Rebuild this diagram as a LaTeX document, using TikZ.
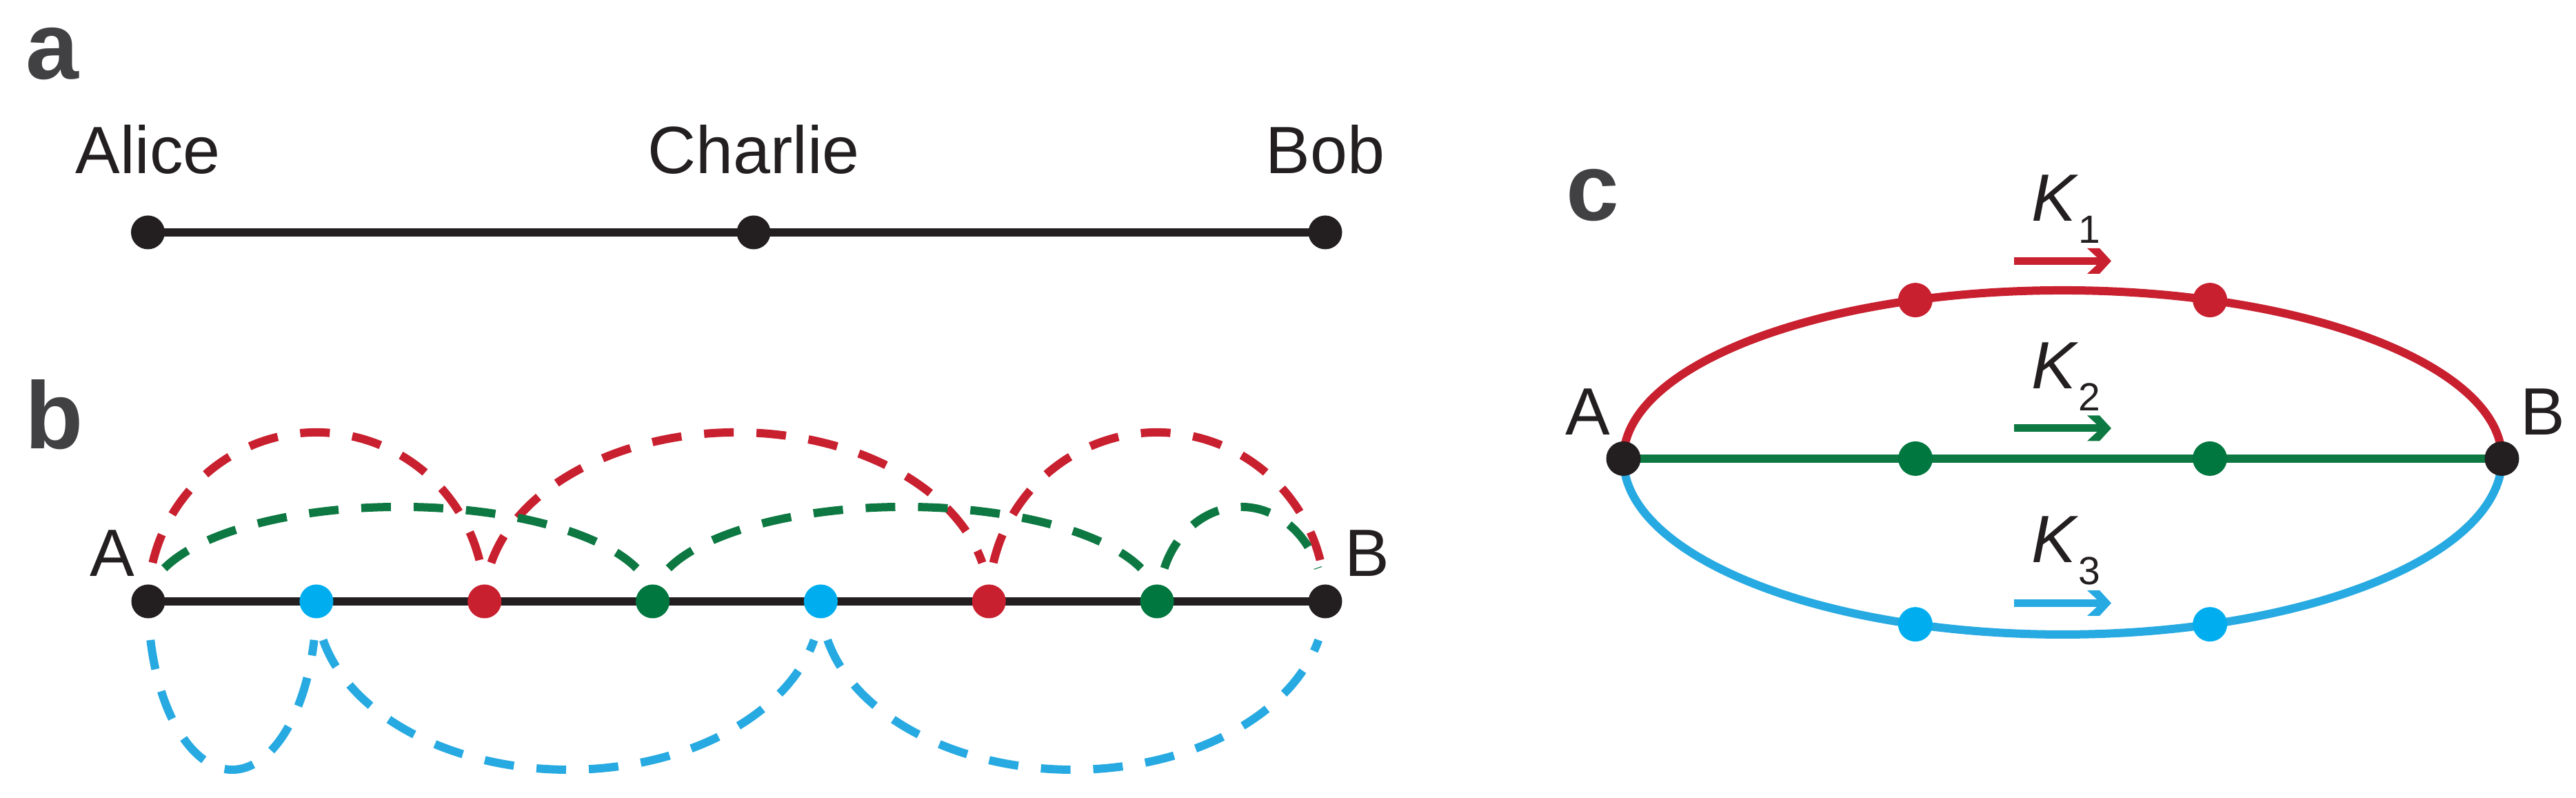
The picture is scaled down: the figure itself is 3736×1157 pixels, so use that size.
\documentclass[tikz,border=0pt]{standalone}
\usepackage{fontspec}
\setmainfont{Liberation Sans}
\usetikzlibrary{calc,backgrounds}
\definecolor{kred}{HTML}{C8202F}
\definecolor{kgreen}{HTML}{0D7842}
\definecolor{kgreendot}{HTML}{00773F}
\definecolor{kcyan}{HTML}{27AAE1}
\definecolor{kcyandot}{HTML}{00AEEF}
\definecolor{kblack}{HTML}{231F20}
\definecolor{kgray}{HTML}{414042}
\begin{document}
\begin{tikzpicture}[x=0.1pt,y=0.1pt,
 dot/.style={circle,fill=#1,draw=none,inner sep=0pt,minimum size=4.9pt},
 dot/.default=kblack,
 txt/.style={inner sep=0pt,anchor=base,text=kblack,font=\fontsize{9.7}{11}\selectfont},
 panel/.style={inner sep=0pt,anchor=base west,text=kgray,font=\fontsize{13.8}{15}\selectfont\bfseries},
 dashedarc/.style={draw=#1,line width=1.2pt,dash pattern=on 4.3pt off 3.3pt},
 solidpath/.style={draw=#1,line width=1.2pt},
 klabel/.style={inner sep=0pt,anchor=base west,text=kblack,font=\fontsize{9.7}{11}\selectfont},
 kshaft/.style={draw=#1,line width=1.1pt},
 chev/.pic={\fill (0,0) -- ++(-17,18.5) -- ++(-18,0) -- ++(20,-18.5) -- ++(-20,-18.5) -- ++(18,0) -- cycle;}
]
\useasboundingbox (0,0) rectangle (3736,1157);

% panel labels
\node[panel] (la) at (36,1042) {a};
\node[panel] (lb) at (34,506) {b};
\node[panel] (lc) at (2269,837) {c};

% ---------- panel a ----------
\node[dot] (alice) at (214.5,820) {};
\node[dot] (charlie) at (1093,820) {};
\node[dot] (bob) at (1922,820) {};
\node[txt] (talice) at (214.5,905) {Alice};
\node[txt] (tcharlie) at (1093,905) {Charlie};
\node[txt] (tbob) at (1922,905) {Bob};
\begin{pgfonlayer}{background}
\draw[kblack,line width=1.2pt] (alice.center) -- (charlie.center) -- (bob.center);
\end{pgfonlayer}

% ---------- panel b ----------
\node[dot] (bA) at (215,285) {};
\node[dot=kcyandot] (b1) at (458.9,285) {};
\node[dot=kred] (b2) at (702.7,285) {};
\node[dot=kgreendot] (b3) at (946.6,285) {};
\node[dot=kcyandot] (b4) at (1190.4,285) {};
\node[dot=kred] (b5) at (1434.3,285) {};
\node[dot=kgreendot] (b6) at (1678.1,285) {};
\node[dot] (bB) at (1922,285) {};
\node[txt] (tbA) at (162.5,321) {A};
\node[txt] (tbB) at (1983,321) {B};
\begin{pgfonlayer}{background}
\draw[kblack,line width=1.25pt] (bA.center) -- (bB.center);
\end{pgfonlayer}

\coordinate (mr1) at ($(bA)!0.5!(b2)$);
\coordinate (mr2) at ($(b2)!0.5!(b5)$);
\coordinate (mr3) at ($(b5)!0.5!(bB)$);
\coordinate (mg1) at ($(bA)!0.5!(b3)$);
\coordinate (mg2) at ($(b3)!0.5!(b6)$);
\coordinate (mg3) at ($(b6)!0.5!(bB)$);
\coordinate (mc1) at ($(bA)!0.5!(b1)$);
\coordinate (mc2) at ($(b1)!0.5!(b4)$);
\coordinate (mc3) at ($(b4)!0.5!(bB)$);

\draw[dashedarc=kred] (mr1) ++(166.79:243.9 and 245) arc[start angle=166.79,end angle=13.21,x radius=243.9,y radius=245];
\draw[dashedarc=kred] (mr2) ++(166.79:365.8 and 245) arc[start angle=166.79,end angle=13.21,x radius=365.8,y radius=245];
\draw[dashedarc=kred] (mr3) ++(166.79:243.9 and 245) arc[start angle=166.79,end angle=13.21,x radius=243.9,y radius=245];

\draw[dashedarc=kgreen] (mg1) ++(159.49:365.8 and 137) arc[start angle=159.49,end angle=20.51,x radius=365.8,y radius=137];
\draw[dashedarc=kgreen] (mg2) ++(159.49:365.8 and 137) arc[start angle=159.49,end angle=20.51,x radius=365.8,y radius=137];
\draw[dashedarc=kgreen] (mg3) ++(159.49:119 and 137) arc[start angle=159.49,end angle=20.51,x radius=119,y radius=137];

\draw[dashedarc=kcyan] (mc1) ++(193.27:121.9 and 244) arc[start angle=193.27,end angle=346.73,x radius=121.9,y radius=244];
\draw[dashedarc=kcyan] (mc2) ++(193.27:365.8 and 244) arc[start angle=193.27,end angle=346.73,x radius=365.8,y radius=244];
\draw[dashedarc=kcyan] (mc3) ++(193.27:365.8 and 244) arc[start angle=193.27,end angle=346.73,x radius=365.8,y radius=244];

% ---------- panel c ----------
\node[dot,minimum size=5pt] (cA) at (2354.5,492) {};
\node[dot,minimum size=5pt] (cB) at (3628.5,492) {};
\coordinate (cM) at ($(cA)!0.5!(cB)$);
\node[dot=kred,minimum size=5pt] (r1) at ($(cM)+(109.6:637 and 244)$) {};
\node[dot=kred,minimum size=5pt] (r2) at ($(cM)+(70.4:637 and 244)$) {};
\node[dot=kgreendot,minimum size=5pt] (g1) at ($(cM)+(-213.5,0)$) {};
\node[dot=kgreendot,minimum size=5pt] (g2) at ($(cM)+(213.5,0)$) {};
\node[dot=kcyandot,minimum size=5pt] (c1) at ($(cM)+(250.4:637 and 255)$) {};
\node[dot=kcyandot,minimum size=5pt] (c2) at ($(cM)+(289.6:637 and 255)$) {};
\begin{pgfonlayer}{background}
\draw[solidpath=kred] (cA.center) arc[start angle=180,end angle=0,x radius=637,y radius=244];
\draw[solidpath=kcyan] (cA.center) arc[start angle=180,end angle=360,x radius=637,y radius=255];
\draw[solidpath=kgreen] (cA.center) -- (g1.center) -- (g2.center) -- (cB.center);
\end{pgfonlayer}
\node[txt] (tcA) at (2303,526) {A};
\node[txt] (tcB) at (3688,526) {B};

\node[klabel] (K1) at (2944,836) {\textit{K}\raisebox{-3.2pt}{\fontsize{5.7}{6}\selectfont 1}};
\node[klabel] (K2) at (2944,593) {\textit{K}\raisebox{-3.2pt}{\fontsize{5.7}{6}\selectfont 2}};
\node[klabel] (K3) at (2944,341) {\textit{K}\raisebox{-3.2pt}{\fontsize{5.7}{6}\selectfont 3}};

\coordinate (k1s) at (2921,778.5);
\coordinate (k1e) at (3047,778.5);
\coordinate (k1t) at (3062,778.5);
\coordinate (k2s) at (2921,536);
\coordinate (k2e) at (3047,536);
\coordinate (k2t) at (3062,536);
\coordinate (k3s) at (2921,282.5);
\coordinate (k3e) at (3047,282.5);
\coordinate (k3t) at (3062,282.5);
\draw[kshaft=kred] (k1s) -- (k1e);
\draw[kshaft=kgreen] (k2s) -- (k2e);
\draw[kshaft=kcyan] (k3s) -- (k3e);
\pic[color=kred] at (k1t) {chev};
\pic[color=kgreen] at (k2t) {chev};
\pic[color=kcyan] at (k3t) {chev};
\end{tikzpicture}
\end{document}
